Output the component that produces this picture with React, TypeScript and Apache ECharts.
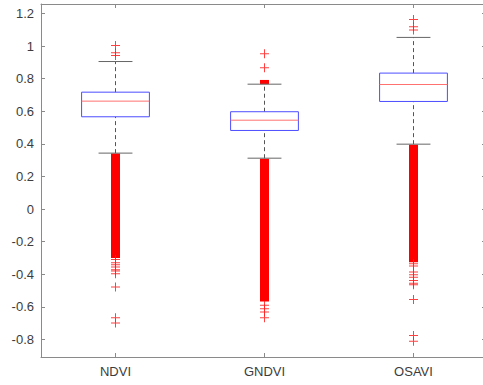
import React, { useEffect, useRef } from "react";
import * as echarts from "echarts";

const categories = ["NDVI", "GNDVI", "OSAVI"];
const whiskerLow = [0.343, 0.312, 0.398];
const quartile1 = [0.566, 0.482, 0.66];
const medians = [0.662, 0.545, 0.764];
const quartile3 = [0.717, 0.597, 0.834];
const whiskerHigh = [0.905, 0.766, 1.053];

const ndviOutliers = [1.003, 0.959, 0.942, -0.31, -0.33, -0.342, -0.356, -0.372, -0.381, -0.397, -0.479, -0.667, -0.699];
const gndviOutliers = [0.953, 0.867, -0.591, -0.612, -0.632, -0.667];
const osaviOutliers = [1.163, 1.118, 1.098, -0.336, -0.35, -0.387, -0.403, -0.418, -0.438, -0.455, -0.464, -0.555, -0.776, -0.812];

// ranges where outlier markers overlap into a solid column
const ndviDense = [[-0.3, 0.34]];
const gndviDense = [[-0.567, 0.308], [0.766, 0.792]];
const osaviDense = [[-0.326, 0.394]];

const yTickLabels = [-0.8, -0.6, -0.4, -0.2, 0, 0.2, 0.4, 0.6, 0.8, 1, 1.2];
const yMin = -0.908;
const yMax = 1.258;

const FONT = "Liberation Sans, Arial, sans-serif";
const AXIS_COLOR = "#8a8a8a";
const LABEL_COLOR = "#3c3c3c";
const PLUS = "path://M4,0h1v9h-1zM0,4h9v1h-9z";

export default function App() {
  const ref = useRef<HTMLDivElement>(null);
  useEffect(() => {
    if (!ref.current) return;
    const chart = echarts.init(ref.current, null, { renderer: "svg" });

    const boxData = categories.map((_, i) => [i, whiskerLow[i], quartile1[i], medians[i], quartile3[i], whiskerHigh[i]]);
    const outlierData: number[][] = [];
    [ndviOutliers, gndviOutliers, osaviOutliers].forEach((arr, i) => arr.forEach((v) => outlierData.push([i, v])));
    const denseData: number[][] = [];
    [ndviDense, gndviDense, osaviDense].forEach((arr, i) => arr.forEach((r) => denseData.push([i, r[0], r[1]])));

    const tickOpts = { show: true, inside: true, length: 4, lineStyle: { color: AXIS_COLOR, width: 1 } };
    const lineOpts = { show: true, onZero: false, lineStyle: { color: AXIS_COLOR, width: 1 } };

    chart.setOption({
      animation: false,
      backgroundColor: "#ffffff",
      grid: { left: 41, top: 4, width: 447, height: 353, containLabel: false, outerBoundsMode: "none" },
      xAxis: [
        {
          type: "category",
          data: categories,
          position: "bottom",
          boundaryGap: true,
          axisLine: lineOpts,
          axisTick: { ...tickOpts, alignWithLabel: true },
          axisLabel: { color: LABEL_COLOR, fontFamily: FONT, fontSize: 13, margin: 8 },
          splitLine: { show: false },
        },
        {
          type: "category",
          data: categories,
          position: "top",
          boundaryGap: true,
          axisLine: lineOpts,
          axisTick: { ...tickOpts, alignWithLabel: true },
          axisLabel: { show: false },
          splitLine: { show: false },
        },
      ],
      yAxis: [
        {
          type: "value",
          min: yMin,
          max: yMax,
          position: "left",
          axisLine: lineOpts,
          axisTick: { ...tickOpts, customValues: yTickLabels },
          axisLabel: { color: LABEL_COLOR, fontFamily: FONT, fontSize: 13, margin: 7, customValues: yTickLabels },
          splitLine: { show: false },
        },
        {
          type: "value",
          min: yMin,
          max: yMax,
          position: "right",
          axisLine: { show: false },
          axisTick: { ...tickOpts, length: 6, customValues: yTickLabels },
          axisLabel: { show: false },
          splitLine: { show: false },
        },
      ],
      series: [
        {
          type: "custom",
          name: "dense",
          xAxisIndex: 0,
          yAxisIndex: 0,
          z: 2,
          data: denseData,
          renderItem: (params: any, api: any) => {
            const idx = api.value(0);
            const pLo = api.coord([idx, api.value(1)]);
            const pHi = api.coord([idx, api.value(2)]);
            return {
              type: "rect",
              shape: { x: pLo[0] - 4.5, y: pHi[1], width: 9, height: pLo[1] - pHi[1] },
              style: { fill: "#ff0000" },
            };
          },
        },
        {
          type: "scatter",
          name: "outliers",
          xAxisIndex: 0,
          yAxisIndex: 0,
          z: 3,
          symbol: PLUS,
          symbolSize: 9,
          itemStyle: { color: "#ff2020", opacity: 0.85 },
          data: outlierData,
        },
        {
          type: "custom",
          name: "boxes",
          xAxisIndex: 0,
          yAxisIndex: 0,
          z: 4,
          data: boxData,
          renderItem: (params: any, api: any) => {
            const idx = api.value(0);
            const band = api.size([1, 0])[0];
            const bw = band * 0.455;
            const cw = bw * 0.5;
            const xc = api.coord([idx, api.value(3)])[0];
            const yLow = api.coord([idx, api.value(1)])[1];
            const yQ1 = api.coord([idx, api.value(2)])[1];
            const yMed = api.coord([idx, api.value(3)])[1];
            const yQ3 = api.coord([idx, api.value(4)])[1];
            const yHigh = api.coord([idx, api.value(5)])[1];
            const wStyle = { stroke: "#555555", lineWidth: 1, lineDash: [4, 3] };
            const cStyle = { stroke: "#666666", lineWidth: 1 };
            return {
              type: "group",
              children: [
                { type: "line", shape: { x1: xc, y1: yQ3, x2: xc, y2: yHigh }, style: wStyle },
                { type: "line", shape: { x1: xc, y1: yLow, x2: xc, y2: yQ1 }, style: wStyle },
                { type: "line", shape: { x1: xc - cw / 2, y1: yHigh, x2: xc + cw / 2, y2: yHigh }, style: cStyle },
                { type: "line", shape: { x1: xc - cw / 2, y1: yLow, x2: xc + cw / 2, y2: yLow }, style: cStyle },
                {
                  type: "rect",
                  shape: { x: xc - bw / 2, y: yQ3, width: bw, height: yQ1 - yQ3 },
                  style: { fill: "none", stroke: "#4d4dff", lineWidth: 1 },
                },
                { type: "line", shape: { x1: xc - bw / 2, y1: yMed, x2: xc + bw / 2, y2: yMed }, style: { stroke: "#ff7070", lineWidth: 1 } },
              ],
            };
          },
        },
      ],
    });
    return () => chart.dispose();
  }, []);

  return (
    <div
      ref={ref}
      style={{ position: "fixed", left: 0, top: 0, width: 483, height: 385, background: "#fff" }}
    />
  );
}
